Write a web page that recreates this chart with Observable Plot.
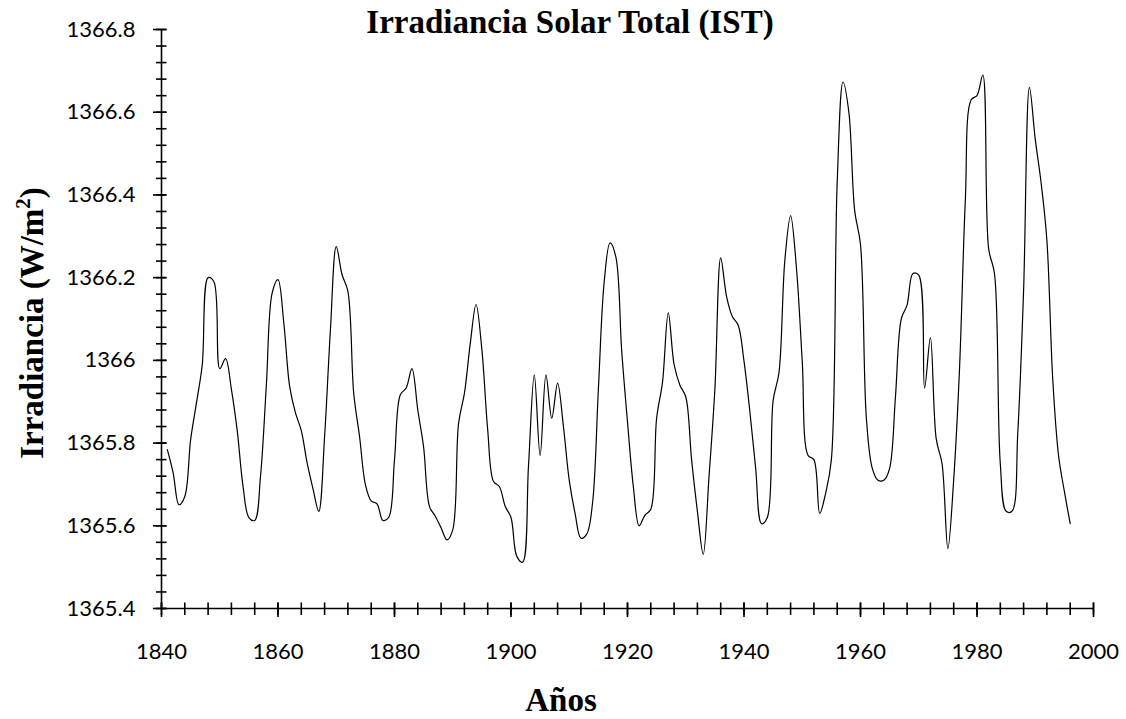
<!DOCTYPE html>
<html>
<head>
<meta charset="utf-8">
<script src="https://cdn.jsdelivr.net/npm/d3@7"></script>
<script src="https://cdn.jsdelivr.net/npm/@observablehq/plot@0.6"></script>
<style>
  html, body { margin: 0; padding: 0; background: #fff; }
  #chart { width: 1126px; height: 719px; }
</style>
</head>
<body>
<div id="chart"></div>
<script>
const years = [
  1841,1842,1843,1844,1845,1846,1847,1848,1849,1850,
  1851,1852,1853,1854,1855,1856,1857,1858,1859,1860,
  1861,1862,1863,1864,1865,1866,1867,1868,1869,1870,
  1871,1872,1873,1874,1875,1876,1877,1878,1879,1880,
  1881,1882,1883,1884,1885,1886,1887,1888,1889,1890,
  1891,1892,1893,1894,1895,1896,1897,1898,1899,1900,
  1901,1902,1903,1904,1905,1906,1907,1908,1909,1910,
  1911,1912,1913,1914,1915,1916,1917,1918,1919,1920,
  1921,1922,1923,1924,1925,1926,1927,1928,1929,1930,
  1931,1932,1933,1934,1935,1936,1937,1938,1939,1940,
  1941,1942,1943,1944,1945,1946,1947,1948,1949,1950,
  1951,1952,1953,1954,1955,1956,1957,1958,1959,1960,
  1961,1962,1963,1964,1965,1966,1967,1968,1969,1970,
  1971,1972,1973,1974,1975,1976,1977,1978,1979,1980,
  1981,1982,1983,1984,1985,1986,1987,1988,1989,1990,
  1991,1992,1993,1994,1995,1996
];
const irradiance = [
  1365.784,1365.728,1365.651,1365.671,1365.808,1365.897,1365.990,1366.200,1366.190,1365.980,
  1366.004,1365.930,1365.830,1365.695,1365.620,1365.613,1365.720,1365.940,1366.163,1366.195,
  1366.090,1365.937,1365.873,1365.830,1365.752,1365.690,1365.635,1365.816,1366.074,1366.275,
  1366.207,1366.167,1365.920,1365.816,1365.700,1365.660,1365.653,1365.613,1365.620,1365.760,
  1365.917,1365.933,1365.980,1365.880,1365.790,1365.647,1365.623,1365.595,1365.566,1365.590,
  1365.848,1365.920,1366.040,1366.135,1366.026,1365.832,1365.707,1365.695,1365.647,1365.620,
  1365.526,1365.512,1365.744,1365.965,1365.770,1365.965,1365.860,1365.945,1365.840,1365.710,
  1365.630,1365.570,1365.580,1365.655,1365.930,1366.190,1366.284,1366.250,1366.024,1365.851,
  1365.695,1365.600,1365.626,1365.640,1365.860,1365.946,1366.115,1365.990,1365.940,1365.912,
  1365.760,1365.635,1365.531,1365.720,1365.930,1366.248,1366.155,1366.106,1366.085,1365.998,
  1365.877,1365.739,1365.605,1365.620,1365.903,1365.970,1366.240,1366.350,1366.224,1365.998,
  1365.770,1365.760,1365.630,1365.678,1365.760,1366.430,1366.673,1366.600,1366.362,1366.280,
  1365.862,1365.740,1365.710,1365.710,1365.739,1365.912,1366.100,1366.134,1366.210,1366.206,
  1365.933,1366.055,1365.810,1365.750,1365.545,1365.712,1365.980,1366.388,1366.630,1366.640,
  1366.690,1366.270,1366.210,1365.750,1365.635,1365.635,1365.825,1366.170,1366.660,1366.535,
  1366.430,1366.290,1365.955,1365.770,1365.683,1365.605
];
const xTickLabels = [1840, 1860, 1880, 1900, 1920, 1940, 1960, 1980, 2000];
const xMinorTicks = d3.range(1840, 2001, 4);
const yTickLabels = [1365.4, 1365.6, 1365.8, 1366, 1366.2, 1366.4, 1366.6, 1366.8];
const yMinorTicks = d3.range(0, 36).map(i => +(1365.4 + i * 0.04).toFixed(2));

const titleText = "Irradiancia Solar Total (IST)";
const xTitle = "Años";
const yTitle = "Irradiancia (W/m";

const data = years.map((year, i) => ({ year, value: irradiance[i] }));

const serif = "'Liberation Serif', 'Times New Roman', serif";

const W = 1126, H = 719;
const mL = 161, mR = 33, mT = 29, mB = 111;
const frameW = W - mL - mR;   // 932
const frameH = H - mT - mB;   // 579

const plot = Plot.plot({
  width: W,
  height: H,
  marginLeft: mL,
  marginRight: mR,
  marginTop: mT,
  marginBottom: mB,
  x: { domain: [1840, 2000], axis: null },
  y: { domain: [1365.4, 1366.8], axis: null },
  style: { fontFamily: "Lato, 'Open Sans', sans-serif", fontSize: "22px", color: "#000", background: "#fff" },
  marks: [
    // y ticks crossing the axis
    Plot.tickY(yMinorTicks, { y: d => d, stroke: "#000", strokeWidth: 1.6, insetLeft: -5, insetRight: frameW - 5.5 }),
    Plot.tickY(yTickLabels, { y: d => d, stroke: "#000", strokeWidth: 1.6, insetLeft: -8, insetRight: frameW - 5.5 }),
    Plot.axisY(yTickLabels, { tickSize: 0, tickPadding: 26, tickFormat: d => String(d), label: null, fontSize: 22 }),
    // x ticks crossing the axis
    Plot.tickX(xMinorTicks, { x: d => d, stroke: "#000", strokeWidth: 1.6, insetTop: frameH - 5.5, insetBottom: -7 }),
    Plot.tickX(xTickLabels, { x: d => d, stroke: "#000", strokeWidth: 1.6, insetTop: frameH - 5.5, insetBottom: -9 }),
    Plot.axisX(xTickLabels, { tickSize: 0, tickPadding: 35, tickFormat: d => String(d), label: null, fontSize: 22 }),
    // axis lines
    Plot.ruleX([1840], { stroke: "#000", strokeWidth: 1.6 }),
    Plot.ruleY([1365.4], { stroke: "#000", strokeWidth: 1.6 }),
    // data line
    Plot.line(data, { x: "year", y: "value", curve: "catmull-rom", stroke: "#000", strokeWidth: 1.2 })
  ]
});

const svg = d3.select(plot);

svg.append("text")
  .attr("x", 570).attr("y", 33)
  .attr("text-anchor", "middle")
  .attr("font-family", serif).attr("font-weight", "bold").attr("font-size", 33)
  .attr("fill", "#000")
  .text(titleText);

svg.append("text")
  .attr("x", 561).attr("y", 711)
  .attr("text-anchor", "middle")
  .attr("font-family", serif).attr("font-weight", "bold").attr("font-size", 33)
  .attr("fill", "#000")
  .text(xTitle);

const yt = svg.append("text")
  .attr("transform", "translate(43,323) rotate(-90)")
  .attr("text-anchor", "middle")
  .attr("font-family", serif).attr("font-weight", "bold").attr("font-size", 33)
  .attr("fill", "#000");
yt.append("tspan").text(yTitle);
yt.append("tspan").attr("font-size", 21).attr("dy", -13).text("2");
yt.append("tspan").attr("dy", 13).text(")");

document.getElementById("chart").appendChild(plot);
</script>
</body>
</html>
